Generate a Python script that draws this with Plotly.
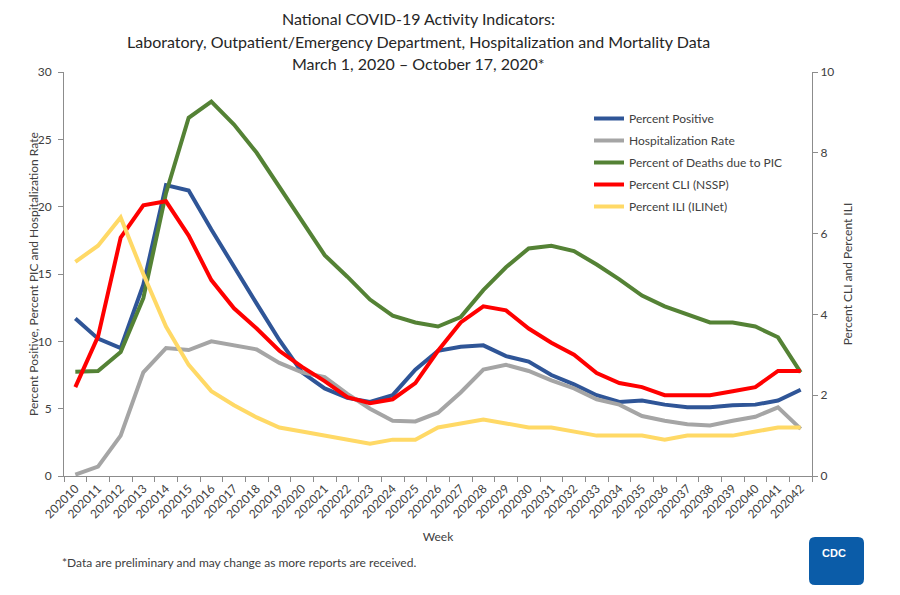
import plotly.graph_objects as go

weeks = [str(w) for w in range(202010, 202043)]

pct_positive = [11.7, 10.2, 9.5, 14.2, 21.6, 21.2, 18.3, 15.5, 12.8, 10.1, 7.7, 6.5, 5.8, 5.5, 6.0, 7.9,
                9.3, 9.6, 9.7, 8.9, 8.5, 7.5, 6.8, 6.0, 5.5, 5.6, 5.3, 5.1, 5.1, 5.25, 5.3, 5.6, 6.4]
hosp_rate = [0.1, 0.7, 3.0, 7.7, 9.5, 9.35, 10.0, 9.7, 9.4, 8.4, 7.7, 7.35, 6.1, 5.0, 4.1, 4.05,
             4.7, 6.2, 7.9, 8.25, 7.8, 7.1, 6.5, 5.7, 5.3, 4.45, 4.1, 3.85, 3.75, 4.1, 4.4, 5.1, 3.5]
pct_pic = [7.75, 7.8, 9.2, 13.2, 21.0, 26.6, 27.8, 26.1, 24.0, 21.5, 19.0, 16.4, 14.8, 13.1, 11.9, 11.4,
           11.1, 11.8, 13.8, 15.5, 16.9, 17.1, 16.7, 15.7, 14.6, 13.4, 12.6, 12.0, 11.4, 11.4, 11.1, 10.3, 7.7]
pct_cli = [2.2, 3.45, 5.9, 6.7, 6.8, 5.95, 4.85, 4.15, 3.65, 3.1, 2.7, 2.35, 1.95, 1.8, 1.9, 2.3,
           3.1, 3.8, 4.2, 4.1, 3.65, 3.3, 3.0, 2.55, 2.3, 2.2, 2.0, 2.0, 2.0, 2.1, 2.2, 2.6, 2.6]
pct_ili = [5.3, 5.7, 6.4, 5.0, 3.7, 2.75, 2.1, 1.75, 1.45, 1.2, 1.1, 1.0, 0.9, 0.8, 0.9, 0.9,
           1.2, 1.3, 1.4, 1.3, 1.2, 1.2, 1.1, 1.0, 1.0, 1.0, 0.9, 1.0, 1.0, 1.0, 1.1, 1.2, 1.2]

title_lines = ["National COVID-19 Activity Indicators:",
               "Laboratory, Outpatient/Emergency Department, Hospitalization and Mortality Data",
               "March 1, 2020 \u2013 October 17, 2020*"]

FONT = "Lato"
TXT = "#404040"
AX = "#8c8c8c"

L, R, T, B = 64, 812, 72, 476
W, H = R - L, B - T


def px(x):
    return (x - L) / W


def py(y):
    return (B - y) / H


fig = go.Figure()
series = [
    ("Percent Positive", pct_positive, "#2F5597", "y"),
    ("Hospitalization Rate", hosp_rate, "#A5A5A5", "y"),
    ("Percent of Deaths due to PIC", pct_pic, "#548235", "y"),
    ("Percent CLI (NSSP)", pct_cli, "#FF0000", "y2"),
    ("Percent ILI (ILINet)", pct_ili, "#FFD966", "y2"),
]
for name, vals, col, ax in series:
    fig.add_trace(go.Scatter(x=weeks, y=vals, name=name, mode="lines", legendgroup=name,
                             line=dict(color=col, width=4), yaxis=ax))

fig.update_layout(
    width=900, height=595,
    margin=dict(l=L, r=900 - R, t=T, b=595 - B),
    paper_bgcolor="white", plot_bgcolor="white",
    font=dict(family=FONT, size=12, color=TXT),
    showlegend=True,
    legend=dict(x=px(589), y=py(104), xanchor="left", yanchor="top",
                bgcolor="rgba(0,0,0,0)", font=dict(size=12, color=TXT),
                tracegroupgap=3, itemwidth=30),
    xaxis=dict(type="category", range=[-0.5, 32.5], tickangle=-45,
               showline=True, linecolor=AX, linewidth=1, ticks="outside",
               tickson="boundaries", ticklen=5, tickcolor=AX, showgrid=False, zeroline=False,
               tickfont=dict(size=12, color=TXT),
               title=dict(text="Week", font=dict(size=12, color=TXT), standoff=12)),
    yaxis=dict(range=[0, 30], dtick=5, showline=True, linecolor=AX, linewidth=1,
               ticks="outside", ticklen=5, tickcolor=AX, showgrid=False, zeroline=False,
               ticklabelstandoff=4, tickfont=dict(size=12, color=TXT)),
    yaxis2=dict(range=[0, 10], dtick=2, overlaying="y", side="right", showline=True,
                linecolor=AX, linewidth=1, ticks="outside", ticklen=5, tickcolor=AX,
                showgrid=False, zeroline=False, tickfont=dict(size=12, color=TXT),
                title=dict(text="Percent CLI and Percent ILI", font=dict(size=12, color=TXT),
                           standoff=10)),
)

for line, yc in zip(title_lines, [18, 42, 64]):
    fig.add_annotation(text=line, xref="paper", yref="paper", x=px(418), y=py(yc),
                       xanchor="center", yanchor="middle", showarrow=False,
                       font=dict(family=FONT, size=16, color="#262626"))

fig.add_annotation(text="Percent Positive, Percent PIC and Hospitalization Rate",
                   xref="paper", yref="paper", x=px(33), y=0.5, textangle=-90,
                   xanchor="center", yanchor="middle", showarrow=False,
                   font=dict(size=12, color=TXT, family=FONT))

fig.add_annotation(text="*Data are preliminary and may change as more reports are received.",
                   xref="paper", yref="paper", x=px(60), y=py(562),
                   xanchor="left", yanchor="middle", showarrow=False,
                   font=dict(size=12, color=TXT, family=FONT))

# CDC logo badge
fig.add_shape(type="path", xref="paper", yref="paper",
              path="M {a},{b} L {c},{b} Q {d},{b} {d},{e} L {d},{f} Q {d},{g} {c},{g} L {a},{g} Q {h},{g} {h},{f} L {h},{e} Q {h},{b} {a},{b} Z".format(
                  a=px(815), c=px(858), d=px(864), h=px(809),
                  b=py(537), e=py(543), f=py(579), g=py(585)),
              fillcolor="#0B5CA8", line=dict(width=0), layer="above")
fig.add_annotation(text="<b>CDC</b>", xref="paper", yref="paper",
                   x=px(848), y=py(561), showarrow=False,
                   font=dict(size=11, color="white", family="Liberation Sans"))

fig.write_html("out.html")
